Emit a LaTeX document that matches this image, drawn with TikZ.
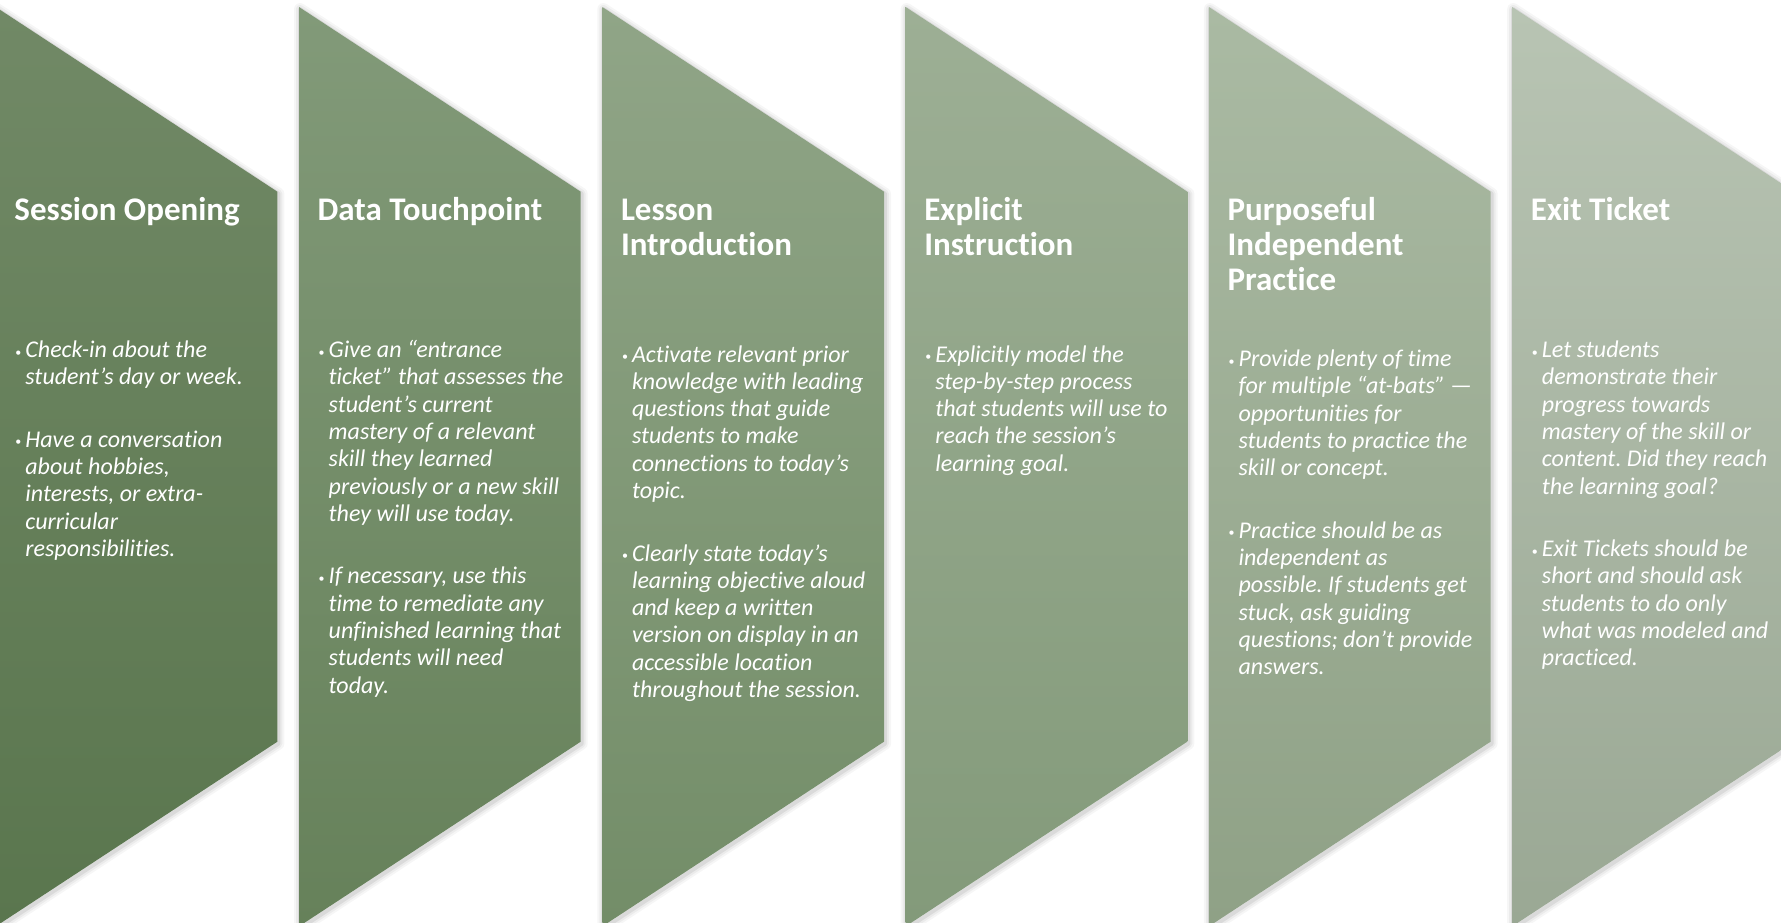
\documentclass[tikz,border=0pt]{standalone}
\usepackage{fontspec}
\setmainfont{Carlito}[Ligatures=NoCommon]

% column colours, lighter at the top of each chevron
\definecolor{c1t}{HTML}{718966}\definecolor{c1b}{HTML}{5A764E}
\definecolor{c2t}{HTML}{829A79}\definecolor{c2b}{HTML}{66815A}
\definecolor{c3t}{HTML}{90A587}\definecolor{c3b}{HTML}{738D68}
\definecolor{c4t}{HTML}{9DAF95}\definecolor{c4b}{HTML}{839A7A}
\definecolor{c5t}{HTML}{AABAA3}\definecolor{c5b}{HTML}{8FA186}
\definecolor{c6t}{HTML}{B8C4B3}\definecolor{c6b}{HTML}{9AA894}

\newcommand\headfont{\fontsize{33}{35.2}\selectfont\bfseries}
\newcommand\bodyfont{\fontsize{24}{27.3}\selectfont\itshape}
\newlength\bulhang \setlength\bulhang{10pt}
\newcommand\bulmark{\makebox[\bulhang][l]{\fontsize{12}{12}\selectfont\upshape\raisebox{1.5pt}{\textbullet}}}
\newcommand\bpara[1]{\hangindent=\bulhang\hangafter=1\noindent\bulmark#1\par}
\newcommand\bgap{\vspace{35.2pt}}
\newcommand\bodybox[1]{\parbox[t]{300pt}{\frenchspacing\bodyfont #1}}
\newcommand\headbox[1]{\parbox[t]{300pt}{\headfont #1}}
% one chevron outline with its left edge at x = #1
\newcommand\chevpath[1]{(#1,7) -- ++(281.7,184.7) -- ++(0,550) -- ++(-281.7,184.7) -- cycle}

\begin{document}
\begin{tikzpicture}[x=1pt,y=-1pt,
  headtxt/.style={anchor=base west,inner sep=0pt,text=white},
  bodytxt/.style={anchor=base west,inner sep=0pt,text=white}]
\useasboundingbox (0,0) rectangle (1781,923);
\clip (0,0) rectangle (1781,923);

% chevrons with a soft shadow
\foreach \i/\ct/\cb in {0/c1t/c1b,1/c2t/c2b,2/c3t/c3b,3/c4t/c4b,4/c5t/c5b,5/c6t/c6b}{
  \pgfmathsetmacro\L{-4.3+303.3*\i}
  \begin{scope}[shift={(1,2)}]
    \foreach \w/\o in {12/0.035,8/0.045,4/0.07}
      \draw[line width=\w pt,black,opacity=\o,line join=round] \chevpath{\L};
  \end{scope}
  \shade[top color=\ct,bottom color=\cb] \chevpath{\L};
}

% column headings
\node[headtxt] (h1) at (14.2,220.5)   {\headbox{Session Opening}};
\node[headtxt] (h2) at (317.5,220.5)  {\headbox{Data Touchpoint}};
\node[headtxt] (h3) at (620.8,220.5)  {\headbox{Lesson\\Introduction}};
\node[headtxt] (h4) at (924.1,220.5)  {\headbox{Explicit\\Instruction}};
\node[headtxt] (h5) at (1227.4,220.5) {\headbox{Purposeful\\Independent\\Practice}};
\node[headtxt] (h6) at (1530.7,220.5) {\headbox{Exit Ticket}};

% column bullet points
\node[bodytxt] (b1) at (15.2,357.5) {\bodybox{%
  \bpara{Check-in about the\\student’s day or week.}\bgap
  \bpara{Have a conversation\\about hobbies,\\interests, or extra-\\curricular\\responsibilities.}}};

\node[bodytxt] (b2) at (318.5,357.5) {\bodybox{%
  \bpara{Give an “entrance\\ticket” that assesses the\\student’s current\\mastery of a relevant\\skill they learned\\previously or a new skill\\they will use today.}\bgap
  \bpara{If necessary, use this\\time to remediate any\\unfinished learning that\\students will need\\today.}}};

\node[bodytxt] (b3) at (621.8,362) {\bodybox{%
  \bpara{Activate relevant prior\\knowledge with leading\\questions that guide\\students to make\\connections to today’s\\topic.}\bgap
  \bpara{Clearly state today’s\\learning objective aloud\\and keep a written\\version on display in an\\accessible location\\throughout the session.}}};

\node[bodytxt] (b4) at (925.1,362) {\bodybox{%
  \bpara{Explicitly model the\\step-by-step process\\that students will use to\\reach the session’s\\learning goal.}}};

\node[bodytxt] (b5) at (1228.4,366.5) {\bodybox{%
  \bpara{Provide plenty of time\\for multiple “at-bats” —\\opportunities for\\students to practice the\\skill or concept.}\bgap
  \bpara{Practice should be as\\independent as\\possible. If students get\\stuck, ask guiding\\questions; don’t provide\\answers.}}};

\node[bodytxt] (b6) at (1531.7,357.5) {\bodybox{%
  \bpara{Let students\\demonstrate their\\progress towards\\mastery of the skill or\\content. Did they reach\\the learning goal?}\bgap
  \bpara{Exit Tickets should be\\short and should ask\\students to do only\\what was modeled and\\practiced.}}};
\end{tikzpicture}
\end{document}
